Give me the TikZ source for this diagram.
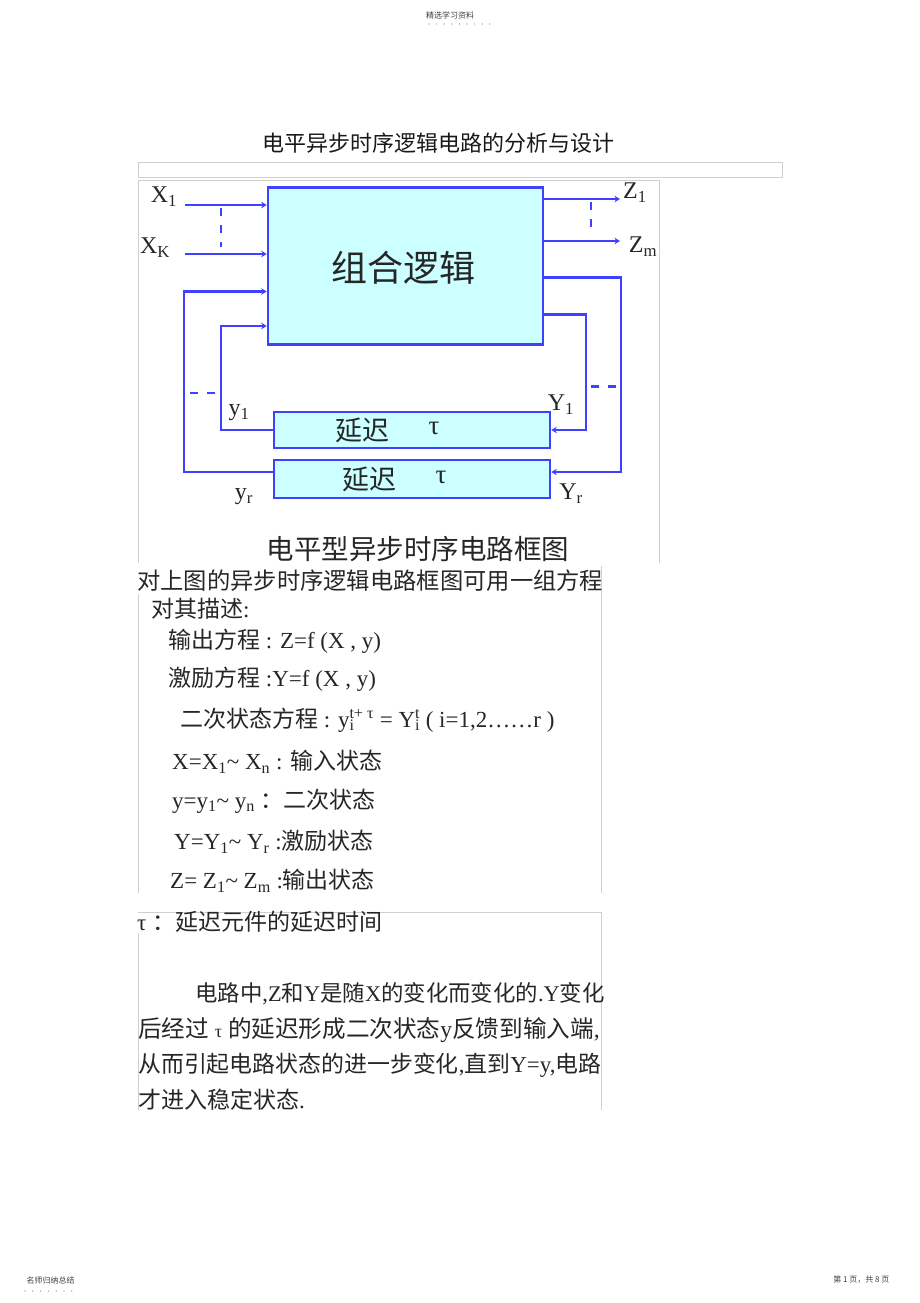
\documentclass[tikz,border=0pt]{standalone}
\usepackage{fontspec}
\setmainfont{Liberation Serif}
\newfontfamily\cjk{Noto Sans CJK SC}
\usetikzlibrary{arrows.meta,positioning,calc}
\definecolor{wireblue}{HTML}{4040FF}
\definecolor{boxfill}{HTML}{CCFFFF}
\definecolor{framegray}{HTML}{CFCFCF}
\definecolor{inkgray}{HTML}{262626}
\newcommand{\zh}[1]{{\cjk #1}}
\newcommand{\fs}[1]{\fontsize{#1}{#1}\selectfont}

\begin{document}
\begin{tikzpicture}[x=1pt,y=-1pt,
    wire/.style={draw=wireblue,line width=2.6pt},
    sigarrow/.style={wire,-{Stealth[length=5.5pt,width=6.5pt]}},
    splitdash/.style={draw=wireblue,line width=2.2pt,dash pattern=on 8pt off 9pt},
    blockbox/.style={draw=wireblue,fill=boxfill,line width=2.6pt,inner sep=0pt},
    frameline/.style={draw=framegray,line width=0.8pt},
    pinlbl/.style={inner sep=0pt,text=inkgray,font=\fs{24}},
    txtline/.style={anchor=west,inner sep=0pt,text=inkgray,font=\fs{23}},
    dotrow/.style={fill=black!55}]
    \useasboundingbox (0,0) rectangle (920,1303);

    % page header and footer
    \node[font=\cjk\fs{8}, text=black!75] (hdr) at (450,15) {精选学习资料};
    \foreach \i in {0,...,8} \fill[dotrow] (429+\i*7.6,24) circle (0.6);
    \node[font=\cjk\fs{8}, text=black!75, anchor=west] (ftl) at (23,1280) {名师归纳总结};
    \foreach \i in {0,...,6} \fill[dotrow] (25+\i*7.8,1291) circle (0.6);
    \node[font=\cjk\fs{8}, text=black!75, anchor=east] (ftr) at (893,1280) {第 1 页，共 8 页};

    % title
    \node[font=\cjk\fs{22}, text=black!90] (title) at (438,143) {电平异步时序逻辑电路的分析与设计};
    \draw[frameline] (138,162) rectangle (782,177);

    % block diagram
    \draw[frameline] (138,563) -- (138,180) -- (659,180) -- (659,563);
    \node[blockbox, minimum width=275pt, minimum height=157pt] (logic) at (405.5,266) {};
    \node[font=\cjk\fs{36}, text=inkgray] (logictxt) at (403,268) {组合逻辑};
    \node[blockbox, minimum width=276pt, minimum height=36pt] (d1) at (412,430) {};
    \node[blockbox, minimum width=276pt, minimum height=38pt] (d2) at (412,479) {};
    \node[font=\cjk\fs{27}, text=inkgray] (d1zh) at (362.5,430) {延迟};
    \node[font=\fs{27}, text=inkgray] (d1tau) at (434,428) {τ};
    \node[font=\cjk\fs{27}, text=inkgray] (d2zh) at (369,479) {延迟};
    \node[font=\fs{27}, text=inkgray] (d2tau) at (441,477) {τ};

    % inputs and outputs
    \coordinate (x1in) at (185,205);
    \coordinate (xkin) at (185,254);
    \coordinate (z1out) at (620,199);
    \coordinate (zmout) at (620,241);
    \draw[sigarrow] (x1in) -- (x1in -| logic.west);
    \draw[sigarrow] (xkin) -- (xkin -| logic.west);
    \draw[splitdash] (221,208) -- (221,247);
    \draw[sigarrow] (z1out -| logic.east) -- (z1out);
    \draw[sigarrow] (zmout -| logic.east) -- (zmout);
    \draw[splitdash] (591,202) -- (591,235);
    \node[pinlbl] (lx1) at (164,197) {X\textsubscript{1}};
    \node[pinlbl] (lxk) at (155,248) {X\textsubscript{K}};
    \node[pinlbl] (lz1) at (635,193) {Z\textsubscript{1}};
    \node[pinlbl] (lzm) at (643,247) {Z\textsubscript{m}};

    % feedback loops
    \coordinate (fbr1) at (586,314.5);
    \coordinate (fbr2) at (621,277.5);
    \coordinate (fbl1) at (221,326);
    \coordinate (fbl2) at (184,291.5);
    \coordinate (d2in) at (d2.east |- 0,472);
    \coordinate (d2out) at (d2.west |- 0,472);
    \draw[sigarrow] (fbr1 -| logic.east) -- (fbr1) |- (d1.east);
    \draw[sigarrow] (fbr2 -| logic.east) -- (fbr2) |- (d2in);
    \draw[sigarrow] (d1.west) -| (fbl1) -- (fbl1 -| logic.west);
    \draw[sigarrow] (d2out) -| (fbl2) -- (fbl2 -| logic.west);
    \draw[splitdash] (190,393) -- (215,393);
    \draw[splitdash] (591,386.5) -- (616,386.5);
    \node[pinlbl] (ly1) at (239,413) {y\textsubscript{1}};
    \node[pinlbl] (lY1) at (561,405) {Y\textsubscript{1}};
    \node[pinlbl] (lyr) at (244,497) {y\textsubscript{r}};
    \node[pinlbl] (lYr) at (571,494) {Y\textsubscript{r}};
    \node[font=\cjk\fs{27.5}, text=inkgray] (caption) at (418,549) {电平型异步时序电路框图};

    % equations
    \draw[frameline] (601,566) -- (601,893);
    \draw[frameline] (138,594) -- (138,893);
    \node[txtline, font=\cjk\fs{23.3}] (eq0) at (137,581) {对上图的异步时序逻辑电路框图可用一组方程};
    \node[txtline] (eq1) at (151,609) {\zh{对其描述}:};
    \node[txtline] (eq2) at (168,641) {\zh{输出方程} : Z=f (X , y)};
    \node[txtline] (eq3) at (168,679) {\zh{激励方程} :Y=f (X , y)};
    \node[txtline] (eq4) at (180,720) {\zh{二次状态方程} : y\rlap{\textsubscript{i}}\textsuperscript{t+ τ} = Y\rlap{\textsubscript{i}}\textsuperscript{t} ( i=1,2……r )};
    \node[txtline] (eq5) at (172,762) {X=X\textsubscript{1}\textasciitilde{} X\textsubscript{n} : \zh{输入状态}};
    \node[txtline] (eq6) at (172,801) {y=y\textsubscript{1}\textasciitilde{} y\textsubscript{n} \zh{：二次状态}};
    \node[txtline] (eq7) at (174,842) {Y=Y\textsubscript{1}\textasciitilde{} Y\textsubscript{r} :\zh{激励状态}};
    \node[txtline] (eq8) at (170,881) {Z= Z\textsubscript{1}\textasciitilde{} Z\textsubscript{m} :\zh{输出状态}};

    % explanation
    \draw[frameline] (138,912.7) -- (601.7,912.7) -- (601.7,1110);
    \draw[frameline] (138,933) -- (138,1110);
    \node[txtline] (tau) at (137,922) {τ \zh{：延迟元件的延迟时间}};
    \node[txtline, font=\fs{22.4}] (par1) at (195,994) {\zh{电路中},Z\zh{和}Y\zh{是随}X\zh{的变化而变化的}.Y\zh{变化}};
    \node[txtline, font=\fs{23.6}] (par2) at (138,1030) {\zh{后经过} {\fs{18}τ} \zh{的延迟形成二次状态}y\zh{反馈到输入端},};
    \node[txtline, font=\fs{22.9}] (par3) at (138,1065) {\zh{从而引起电路状态的进一步变化},\zh{直到}Y=y,\zh{电路}};
    \node[txtline] (par4) at (138,1100) {\zh{才进入稳定状态}.};
\end{tikzpicture}
\end{document}
